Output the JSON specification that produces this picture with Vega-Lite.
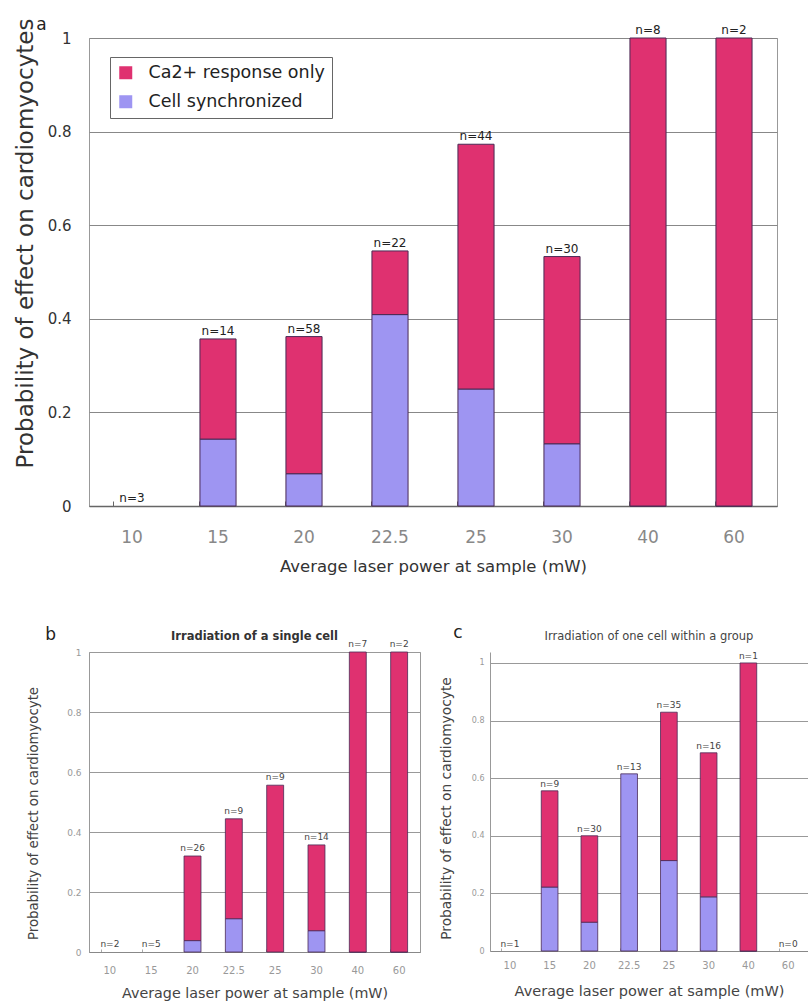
{
  "$schema": "https://vega.github.io/schema/vega-lite/v6.json",
  "padding": {"left": 13, "top": 15, "right": 0, "bottom": 0},
  "config": {
    "font": "DejaVu Sans",
    "view": {"stroke": "#999", "strokeWidth": 1},
    "axis": {"titleFontWeight": "normal"},
    "title": {"fontWeight": "normal", "color": "#222"}
  },
  "datasets": {
    "bars": [
      {"panel": "a", "power": "15", "type": "Cell synchronized", "value": 0.143},
      {"panel": "a", "power": "15", "type": "Ca2+ response only", "value": 0.214},
      {"panel": "a", "power": "20", "type": "Cell synchronized", "value": 0.069},
      {"panel": "a", "power": "20", "type": "Ca2+ response only", "value": 0.293},
      {"panel": "a", "power": "22.5", "type": "Cell synchronized", "value": 0.409},
      {"panel": "a", "power": "22.5", "type": "Ca2+ response only", "value": 0.136},
      {"panel": "a", "power": "25", "type": "Cell synchronized", "value": 0.25},
      {"panel": "a", "power": "25", "type": "Ca2+ response only", "value": 0.523},
      {"panel": "a", "power": "30", "type": "Cell synchronized", "value": 0.133},
      {"panel": "a", "power": "30", "type": "Ca2+ response only", "value": 0.4},
      {"panel": "a", "power": "40", "type": "Cell synchronized", "value": 0},
      {"panel": "a", "power": "40", "type": "Ca2+ response only", "value": 1},
      {"panel": "a", "power": "60", "type": "Cell synchronized", "value": 0},
      {"panel": "a", "power": "60", "type": "Ca2+ response only", "value": 1},
      {"panel": "b", "power": "20", "type": "Cell synchronized", "value": 0.038},
      {"panel": "b", "power": "20", "type": "Ca2+ response only", "value": 0.282},
      {"panel": "b", "power": "22.5", "type": "Cell synchronized", "value": 0.111},
      {"panel": "b", "power": "22.5", "type": "Ca2+ response only", "value": 0.333},
      {"panel": "b", "power": "25", "type": "Ca2+ response only", "value": 0.556},
      {"panel": "b", "power": "30", "type": "Cell synchronized", "value": 0.071},
      {"panel": "b", "power": "30", "type": "Ca2+ response only", "value": 0.286},
      {"panel": "b", "power": "40", "type": "Cell synchronized", "value": 0},
      {"panel": "b", "power": "40", "type": "Ca2+ response only", "value": 1},
      {"panel": "b", "power": "60", "type": "Cell synchronized", "value": 0},
      {"panel": "b", "power": "60", "type": "Ca2+ response only", "value": 1},
      {"panel": "c", "power": "15", "type": "Cell synchronized", "value": 0.222},
      {"panel": "c", "power": "15", "type": "Ca2+ response only", "value": 0.334},
      {"panel": "c", "power": "20", "type": "Cell synchronized", "value": 0.1},
      {"panel": "c", "power": "20", "type": "Ca2+ response only", "value": 0.3},
      {"panel": "c", "power": "22.5", "type": "Cell synchronized", "value": 0.615},
      {"panel": "c", "power": "25", "type": "Cell synchronized", "value": 0.314},
      {"panel": "c", "power": "25", "type": "Ca2+ response only", "value": 0.515},
      {"panel": "c", "power": "30", "type": "Cell synchronized", "value": 0.188},
      {"panel": "c", "power": "30", "type": "Ca2+ response only", "value": 0.5},
      {"panel": "c", "power": "40", "type": "Cell synchronized", "value": 0},
      {"panel": "c", "power": "40", "type": "Ca2+ response only", "value": 1}
    ],
    "labels": [
      {"panel": "a", "power": "10", "total": 0, "label": "n=3"},
      {"panel": "a", "power": "15", "total": 0.357, "label": "n=14"},
      {"panel": "a", "power": "20", "total": 0.362, "label": "n=58"},
      {"panel": "a", "power": "22.5", "total": 0.545, "label": "n=22"},
      {"panel": "a", "power": "25", "total": 0.773, "label": "n=44"},
      {"panel": "a", "power": "30", "total": 0.533, "label": "n=30"},
      {"panel": "a", "power": "40", "total": 1, "label": "n=8"},
      {"panel": "a", "power": "60", "total": 1, "label": "n=2"},
      {"panel": "b", "power": "10", "total": 0, "label": "n=2"},
      {"panel": "b", "power": "15", "total": 0, "label": "n=5"},
      {"panel": "b", "power": "20", "total": 0.32, "label": "n=26"},
      {"panel": "b", "power": "22.5", "total": 0.444, "label": "n=9"},
      {"panel": "b", "power": "25", "total": 0.556, "label": "n=9"},
      {"panel": "b", "power": "30", "total": 0.357, "label": "n=14"},
      {"panel": "b", "power": "40", "total": 1, "label": "n=7"},
      {"panel": "b", "power": "60", "total": 1, "label": "n=2"},
      {"panel": "c", "power": "10", "total": 0, "label": "n=1"},
      {"panel": "c", "power": "15", "total": 0.556, "label": "n=9"},
      {"panel": "c", "power": "20", "total": 0.4, "label": "n=30"},
      {"panel": "c", "power": "22.5", "total": 0.615, "label": "n=13"},
      {"panel": "c", "power": "25", "total": 0.829, "label": "n=35"},
      {"panel": "c", "power": "30", "total": 0.688, "label": "n=16"},
      {"panel": "c", "power": "40", "total": 1, "label": "n=1"},
      {"panel": "c", "power": "60", "total": 0, "label": "n=0"}
    ]
  },
  "resolve": {"scale": {"color": "independent"}, "legend": {"color": "independent"}},
  "spacing": 49,
  "vconcat": [
    {
      "width": 688,
      "height": 468,
      "title": {"text": "a", "anchor": "start", "frame": "bounds", "fontSize": 17, "dx": 22, "offset": -16},
      "encoding": {
        "x": {
          "field": "power", "type": "ordinal",
          "scale": {"domain": ["10", "15", "20", "22.5", "25", "30", "40", "60"], "paddingInner": 0.58, "paddingOuter": 0.29},
          "axis": {"title": "Average laser power at sample (mW)", "titleFontSize": 16.5, "titleColor": "#333", "labelFontSize": 17, "labelColor": "#888", "labelAngle": 0, "labelPadding": 28, "titlePadding": 13, "bandPosition": 0, "tickSize": -5, "tickColor": "#666", "domainColor": "#666", "domainWidth": 1.5}
        }
      },
      "layer": [
        {
          "data": {"name": "bars"},
          "transform": [{"filter": "datum.panel == 'a'"}],
          "mark": {"type": "bar", "stroke": "#4a2a55", "strokeWidth": 1},
          "encoding": {
            "y": {
              "field": "value", "type": "quantitative", "stack": "zero",
              "scale": {"domain": [0, 1]},
              "axis": {"title": "Probability of effect on cardiomyocytes", "titleFontSize": 23, "titleColor": "#333", "titleY": 205, "labelFontSize": 15, "labelColor": "#333", "labelPadding": 18, "titlePadding": 10, "ticks": false, "domain": false, "grid": true, "gridColor": "#888", "gridWidth": 1.2, "values": [0, 0.2, 0.4, 0.6, 0.8, 1], "format": "~g"}
            },
            "color": {
              "field": "type", "type": "nominal",
              "scale": {"domain": ["Ca2+ response only", "Cell synchronized"], "range": ["#df3170", "#9e95f2"]},
              "legend": {"title": null, "orient": "none", "legendX": 21, "legendY": 19, "direction": "vertical", "symbolType": "square", "symbolSize": 169, "symbolStrokeWidth": 0, "labelFontSize": 17.5, "labelColor": "#222", "strokeColor": "#666", "fillColor": "white", "padding": 7, "rowPadding": 10, "labelOffset": 14, "labelLimit": 300}
            },
            "order": {"field": "type", "sort": "descending"}
          }
        },
        {
          "data": {"name": "labels"},
          "transform": [{"filter": "datum.panel == 'a'"}],
          "mark": {"type": "text", "baseline": "alphabetic", "dy": -4, "fontSize": 12, "color": "#222"},
          "encoding": {
            "y": {"field": "total", "type": "quantitative", "title": "Probability of effect on cardiomyocytes"},
            "text": {"field": "label"}
          }
        }
      ]
    },
    {
      "spacing": 18,
      "hconcat": [
        {
          "title": {"text": "b", "anchor": "start", "frame": "bounds", "fontSize": 17, "dx": 19, "offset": -14},
          "vconcat": [
            {
              "width": 331,
              "height": 300,
              "title": {"text": "Irradiation of a single cell", "fontSize": 11.5, "fontWeight": "bold", "color": "#333", "anchor": "middle", "offset": -2},
              "encoding": {
                "x": {
                  "field": "power", "type": "ordinal",
                  "scale": {"domain": ["10", "15", "20", "22.5", "25", "30", "40", "60"], "paddingInner": 0.59, "paddingOuter": 0.3},
                  "axis": {"title": "Average laser power at sample (mW)", "titleFontSize": 14.3, "titleColor": "#444", "labelFontSize": 10, "labelColor": "#999", "labelAngle": 0, "labelPadding": 16, "titlePadding": 11, "bandPosition": 0, "tickSize": -3, "tickColor": "#aaa", "domainColor": "#888"}
                }
              },
              "layer": [
                {
                  "data": {"name": "bars"},
                  "transform": [{"filter": "datum.panel == 'b'"}],
                  "mark": {"type": "bar", "stroke": "#4a2a55", "strokeWidth": 0.8},
                  "encoding": {
                    "y": {
                      "field": "value", "type": "quantitative", "stack": "zero",
                      "scale": {"domain": [0, 1]},
                      "axis": {"title": "Probability of effect on cardiomyocyte", "titleFontSize": 13.3, "titleColor": "#444", "titleY": 161, "labelFontSize": 9, "labelColor": "#999", "labelPadding": 8, "titlePadding": 26, "ticks": false, "domain": false, "grid": true, "gridColor": "#999", "values": [0, 0.2, 0.4, 0.6, 0.8, 1], "format": "~g"}
                    },
                    "color": {
                      "field": "type", "type": "nominal",
                      "scale": {"domain": ["Ca2+ response only", "Cell synchronized"], "range": ["#df3170", "#9e95f2"]},
                      "legend": null
                    },
                    "order": {"field": "type", "sort": "descending"}
                  }
                },
                {
                  "data": {"name": "labels"},
                  "transform": [{"filter": "datum.panel == 'b'"}],
                  "mark": {"type": "text", "baseline": "alphabetic", "dy": -5, "fontSize": 9, "color": "#444"},
                  "encoding": {
                    "y": {"field": "total", "type": "quantitative", "title": "Probability of effect on cardiomyocyte"},
                    "text": {"field": "label"}
                  }
                }
              ]
            }
          ]
        },
        {
          "title": {"text": "c", "anchor": "start", "frame": "bounds", "fontSize": 17, "dx": 14, "offset": -11},
          "vconcat": [
            {
              "width": 318,
              "height": 299,
              "view": {"stroke": null},
              "title": {"text": "Irradiation of one cell within a group", "fontSize": 11.5, "color": "#444", "anchor": "middle", "offset": 9},
              "encoding": {
                "x": {
                  "field": "power", "type": "ordinal",
                  "scale": {"domain": ["10", "15", "20", "22.5", "25", "30", "40", "60"], "paddingInner": 0.58, "paddingOuter": 0.29},
                  "axis": {"title": "Average laser power at sample (mW)", "titleFontSize": 14.5, "titleColor": "#444", "labelFontSize": 10, "labelColor": "#999", "labelAngle": 0, "labelPadding": 12, "titlePadding": 14, "bandPosition": 0, "tickSize": -3, "tickColor": "#aaa", "domainColor": "#888"}
                }
              },
              "layer": [
                {
                  "data": {"name": "bars"},
                  "transform": [{"filter": "datum.panel == 'c'"}],
                  "mark": {"type": "bar", "stroke": "#4a2a55", "strokeWidth": 0.8},
                  "encoding": {
                    "y": {
                      "field": "value", "type": "quantitative", "stack": "zero",
                      "scale": {"domain": [0, 1.038], "nice": false},
                      "axis": {"title": "Probability of effect on cardiomyocyte", "titleFontSize": 13.8, "titleColor": "#444", "titleY": 156, "labelFontSize": 8, "labelColor": "#999", "labelPadding": 6, "titlePadding": 18, "ticks": false, "domain": true, "domainColor": "#999", "grid": true, "gridColor": "#999", "values": [0, 0.2, 0.4, 0.6, 0.8, 1], "format": "~g"}
                    },
                    "color": {
                      "field": "type", "type": "nominal",
                      "scale": {"domain": ["Ca2+ response only", "Cell synchronized"], "range": ["#df3170", "#9e95f2"]},
                      "legend": null
                    },
                    "order": {"field": "type", "sort": "descending"}
                  }
                },
                {
                  "data": {"name": "labels"},
                  "transform": [{"filter": "datum.panel == 'c'"}],
                  "mark": {"type": "text", "baseline": "alphabetic", "dy": -4, "fontSize": 9, "color": "#444"},
                  "encoding": {
                    "y": {"field": "total", "type": "quantitative", "title": "Probability of effect on cardiomyocyte"},
                    "text": {"field": "label"}
                  }
                }
              ]
            }
          ]
        }
      ]
    }
  ]
}
